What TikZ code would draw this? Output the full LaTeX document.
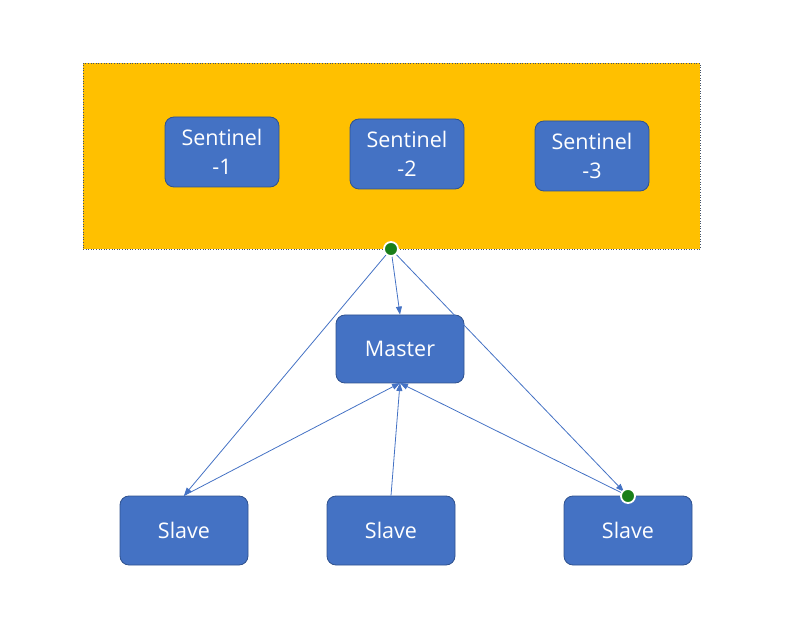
\documentclass[tikz,border=0pt]{standalone}
\usepackage{fontspec}
\setmainfont{Open Sans}
\usetikzlibrary{arrows.meta}
\definecolor{orangebg}{HTML}{FFC000}
\definecolor{boxblue}{HTML}{4472C4}
\definecolor{boxedge}{HTML}{2F528F}
\definecolor{dotgreen}{HTML}{1A7F1A}
\definecolor{frameedge}{HTML}{44546A}
\tikzset{
  box/.style={rectangle, rounded corners=9pt, fill=boxblue, draw=boxedge, line width=0.8pt,
    text=white, font=\fontsize{21.5}{29}\selectfont, align=center, inner sep=0pt},
  sentbox/.style={box, minimum width=114pt, minimum height=70pt},
  nodebox/.style={box, minimum width=128pt, minimum height=68pt},
  conn/.style={draw=boxblue, line width=0.8pt, -{Triangle[length=8pt,width=6pt]}},
  gdot/.style={circle, fill=dotgreen, draw=white, line width=1.8pt, minimum size=14pt, inner sep=0pt},
}
\begin{document}
\begin{tikzpicture}[x=1pt,y=-1pt]
\useasboundingbox (0,0) rectangle (803,617);
\node[fill=orangebg, draw=frameedge, dotted, line width=0.6pt, minimum width=617pt, minimum height=186pt, inner sep=0pt] (frame) at (391.5,156) {};
\node[sentbox] (s1) at (222,152) {Sentinel\\-1};
\node[sentbox] (s2) at (407,154) {Sentinel\\-2};
\node[sentbox] (s3) at (592,156) {Sentinel\\-3};
\node[nodebox] (master) at (400,349) {Master};
\node[nodebox, minimum height=69pt] (slave1) at (184,530.5) {Slave};
\node[nodebox, minimum height=69pt] (slave2) at (391,530.5) {Slave};
\node[nodebox, minimum height=69pt] (slave3) at (628,530.5) {Slave};
\coordinate (d1) at (391,249);
\coordinate (d2) at (628,496);
\coordinate (m1) at (400,383);
\draw[conn] (d1) -- (slave1.north);
\draw[conn] (d1) -- (master.north);
\draw[conn, shorten >=6pt] (d1) -- (d2);
\draw[conn] (slave1.north) -- (m1);
\draw[conn] (slave2.north) -- (m1);
\draw[conn] (d2) -- (m1);
\node[gdot] (g1) at (d1) {};
\node[gdot] (g2) at (d2) {};
\end{tikzpicture}
\end{document}
